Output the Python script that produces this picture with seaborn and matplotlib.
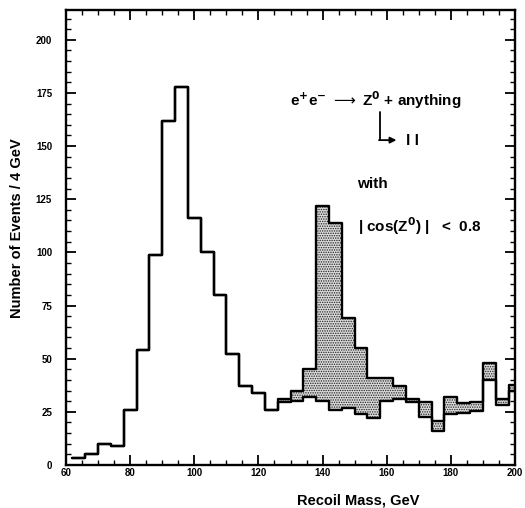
import numpy as np
import pandas as pd
import matplotlib
matplotlib.use("Agg")
import matplotlib.pyplot as plt
import seaborn as sns
from matplotlib.ticker import MultipleLocator

# ---- data ----
bin_edges = list(range(62, 203, 4))  # 4 GeV bins starting at 62 GeV
background = [3.5, 5, 10, 9, 26, 54, 99, 162, 178, 116, 100, 80, 52, 37, 34, 26,
              29.5, 30, 32, 30, 26, 27, 24, 22, 30, 31, 29.5, 22.5, 16, 24, 24.5,
              25.5, 40, 28, 35]
total = [3.5, 5, 10, 9, 26, 54, 99, 162, 178, 116, 100, 80, 52, 37, 34, 26,
         31, 35, 45, 122, 114, 69, 55, 41, 41, 37, 31, 29.5, 20.5, 32, 29,
         29.5, 48, 31, 37.5]
x_ticks = [60, 80, 100, 120, 140, 160, 180, 200]
y_ticks = [0, 25, 50, 75, 100, 125, 150, 175, 200]

edges = np.array(bin_edges, dtype=float)
centers = (edges[:-1] + edges[1:]) / 2
df = pd.DataFrame({"mass": centers, "background": background, "total": total})

sns.set_theme(style="white")
plt.rcParams["font.family"] = ["Liberation Sans", "DejaVu Sans"]
plt.rcParams["text.color"] = "black"
plt.rcParams["axes.labelcolor"] = "black"
plt.rcParams["xtick.color"] = "black"
plt.rcParams["ytick.color"] = "black"
plt.rcParams["hatch.linewidth"] = 0.7
plt.rcParams["hatch.color"] = "#111111"

fig = plt.figure(figsize=(5.25, 5.08), dpi=100)
ax = fig.add_axes([66 / 525, 1 - 465 / 508, 449 / 525, 455 / 508])

# shaded band between background and total
ext_bg = np.append(background, background[-1])
ext_tot = np.append(total, total[-1])
ax.fill_between(edges, ext_bg, ext_tot, step="post",
                facecolor="#dcdcdc", edgecolor="#222222", hatch=".......",
                linewidth=0)

sns.histplot(data=df, x="mass", weights="total", bins=bin_edges,
             element="step", fill=False, color="black", linewidth=1.7, ax=ax)
sns.histplot(data=df, x="mass", weights="background", bins=bin_edges,
             element="step", fill=False, color="black", linewidth=1.7, ax=ax)

ax.set_xlim(60, 200)
ax.set_ylim(0, 214)
ax.set_xticks(x_ticks)
ax.set_yticks(y_ticks)
ax.xaxis.set_minor_locator(MultipleLocator(5))
ax.yaxis.set_minor_locator(MultipleLocator(5))
ax.tick_params(which="both", direction="in", top=True, right=True,
               bottom=True, left=True, color="black", labelcolor="black")
ax.tick_params(which="major", length=7, width=1.3, labelsize=7)
ax.tick_params(which="minor", length=3.5, width=1.0)
ax.tick_params(axis="x", which="major", pad=2)
ax.tick_params(axis="y", which="major", pad=10)
for lab in ax.get_xticklabels() + ax.get_yticklabels():
    lab.set_fontweight("bold")
for s in ax.spines.values():
    s.set_color("black")
    s.set_linewidth(1.7)

ax.set_xlabel("Recoil Mass, GeV", fontsize=10.5, fontweight="bold", color="black")
ax.set_ylabel("Number of Events / 4 GeV", fontsize=10.5, fontweight="bold",
              color="black")
ax.xaxis.set_label_coords(0.65, -0.062)
ax.yaxis.set_label_coords(-0.093, 0.52)

# annotations
tk = dict(transform=ax.transAxes, fontsize=11, fontweight="bold",
          color="black", family=["Liberation Sans", "DejaVu Sans"])
ax.text(0.50, 0.802,
        r"e$^{\mathbf{+}}$e$^{\mathbf{-}}$ $\longrightarrow$ Z$^{\mathbf{0}}$ + anything",
        ha="left", va="center", **tk)
ax.plot([0.699, 0.699], [0.775, 0.714], color="black", lw=1.3,
        transform=ax.transAxes)
ax.annotate("", xy=(0.736, 0.714), xytext=(0.697, 0.714),
            xycoords="axes fraction",
            arrowprops=dict(arrowstyle="-|>", color="black", lw=1.3,
                            mutation_scale=9, shrinkA=0, shrinkB=0))
ax.text(0.757, 0.711, "l l", ha="left", va="center", **tk)
ax.text(0.648, 0.618, "with", ha="left", va="center", **tk)
ax.text(0.650, 0.525, r"| cos(Z$^{\mathbf{0}}$) |   <  0.8", ha="left",
        va="center", **tk)

fig.savefig("out.png", dpi=100)
